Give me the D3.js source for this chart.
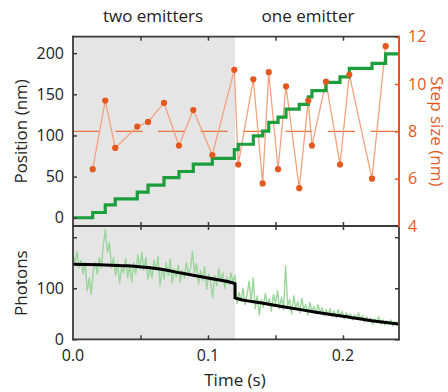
<!DOCTYPE html>
<html>
<head>
<meta charset="utf-8">
<script src="https://cdn.jsdelivr.net/npm/d3@7"></script>
<style>
  html, body { margin: 0; padding: 0; background: #fff; }
  svg { display: block; font-family: "Open Sans", "Noto Sans", sans-serif; }
</style>
</head>
<body>
<svg id="chart" width="448" height="392"></svg>
<script>
// ---- data ----
// detected steps: time (s) and step size (nm)
const stepTimes = [0.0146, 0.0239, 0.0313, 0.0476, 0.0556, 0.0674, 0.0785, 0.0891,
  0.1032, 0.1195, 0.1224, 0.1336, 0.1405, 0.1450, 0.1519, 0.1578, 0.1676, 0.1743,
  0.1770, 0.1874, 0.1978, 0.2047, 0.2215, 0.2316];
const stepSizes = [6.4, 9.3, 7.3, 8.2, 8.4, 9.2, 7.4, 8.9, 7.0, 10.6, 6.6, 10.2,
  5.8, 10.5, 6.4, 9.9, 5.6, 9.3, 7.4, 10.1, 6.6, 10.4, 6.0, 11.6];
// position level after each step (nm); first entry is the starting level
const positionLevels = [0, 6.4, 15.7, 23.0, 31.2, 39.6, 48.8, 56.2, 65.1, 72.1, 82.7,
  89.3, 99.5, 105.3, 115.8, 122.2, 132.1, 137.7, 147.0, 154.4, 164.5, 171.1, 181.5,
  187.5, 199.1];
const meanStepSize = 8;
const switchTime = 0.12;   // two emitters -> one emitter
const endTime = 0.2415;

// photon counts, one sample every photonDt seconds
const photonDt = 0.0015;
const photonCounts = [
  165, 150, 172, 140, 155, 128, 150, 95, 120, 88, 135, 150, 128, 160, 140, 185,
  215, 170, 190, 140, 160, 125, 150, 110, 140, 130, 158, 120, 145, 112, 150, 128,
  165, 140, 170, 135, 160, 118, 140, 120, 155, 135, 162, 105, 140, 118, 150, 125,
  158, 110, 138, 122, 145, 112, 135, 120, 150, 128, 140, 172, 130, 148, 108, 135,
  115, 142, 98, 128, 110, 82, 125, 105, 138, 112, 130, 100, 122, 108, 130, 112,
  125,
  70, 92, 75, 100, 68, 88, 114, 72, 120, 60, 85, 48, 78, 62, 90, 66, 80, 55, 88,
  70, 95, 60, 82, 58, 144, 66, 78, 50, 85, 62, 74, 52, 80, 58, 68, 48, 72, 55, 64,
  50, 68, 52, 62, 46, 58, 48, 60, 44, 56, 42, 58, 46, 54, 40, 52, 44, 50, 38, 48,
  40, 52, 38, 46, 34, 44, 36, 42, 30, 40, 34, 44, 30, 38, 28, 36, 30, 38, 26, 34,
  28, 35];

// fitted intensity, two-emitter and one-emitter segments
const fitTwoTimes = [0, 0.02, 0.04, 0.06, 0.08, 0.1, 0.12];
const fitTwoValues = [147, 146, 144, 139, 130, 120, 109];
const fitOneTimes = [0.12, 0.14, 0.16, 0.18, 0.2, 0.22, 0.2415];
const fitOneValues = [81, 71, 62, 53, 45, 37, 30];

const posTicks = [0, 50, 100, 150, 200];
const stepTicks = [4, 6, 8, 10, 12];
const photonTicks = [0, 100, 200];
const photonTickLabels = ["0", "100", ""];
const timeTicks = [0, 0.05, 0.1, 0.15, 0.2];
const timeTickLabels = ["0.0", "", "0.1", "", "0.2"];
const regionLabels = ["two emitters", "one emitter"];

// ---- layout ----
const svg = d3.select("#chart");
const L = 73, R = 399;
const topY0 = 36.7, topY1 = 226, botY1 = 339.3;

const ORANGE = "#e4581d";
const ORANGE_LIGHT = "#f2a27e";
const GREEN = "#1c9e3c";
const GREEN_LIGHT = "#9ad59a";
const AXIS = "#3a3a3a";
const SHADE = "#e5e5e5";

const x = d3.scaleLinear().domain([0, endTime]).range([L, R]);
const yPos = d3.scaleLinear().domain([-10, 220]).range([topY1, topY0]);
const yStep = d3.scaleLinear().domain([4, 12]).range([topY1, topY0]);
const yPh = d3.scaleLinear().domain([0, 222]).range([botY1, topY1]);

svg.append("defs").append("clipPath").attr("id", "clipTop")
  .append("rect").attr("x", L).attr("y", topY0).attr("width", R - L).attr("height", topY1 - topY0);
svg.select("defs").append("clipPath").attr("id", "clipBot")
  .append("rect").attr("x", L).attr("y", topY1).attr("width", R - L).attr("height", botY1 - topY1);

// shaded two-emitter region
svg.append("rect").attr("x", x(0)).attr("y", topY0)
  .attr("width", x(switchTime) - x(0)).attr("height", botY1 - topY0)
  .attr("fill", SHADE);

// ---- top panel ----
const gTop = svg.append("g").attr("clip-path", "url(#clipTop)");

// mean step size (dashed)
gTop.append("line")
  .attr("x1", x(0)).attr("x2", x(endTime))
  .attr("y1", yStep(meanStepSize)).attr("y2", yStep(meanStepSize))
  .attr("stroke", "#e8733f").attr("stroke-width", 1.4)
  .attr("stroke-dasharray", "27,15.5");

// step sizes
const stepPts = stepTimes.map((t, i) => [t, stepSizes[i]]);
gTop.append("path")
  .attr("d", d3.line().x(d => x(d[0])).y(d => yStep(d[1]))(stepPts))
  .attr("fill", "none").attr("stroke", ORANGE_LIGHT).attr("stroke-width", 1.3);

// position staircase
const stairPts = [[0, positionLevels[0]]]
  .concat(stepTimes.map((t, i) => [t, positionLevels[i + 1]]))
  .concat([[endTime, positionLevels[positionLevels.length - 1]]]);
gTop.append("path")
  .attr("d", d3.line().curve(d3.curveStepAfter).x(d => x(d[0])).y(d => yPos(d[1]))(stairPts))
  .attr("fill", "none").attr("stroke", GREEN).attr("stroke-width", 3.2)
  .attr("stroke-linejoin", "miter");

gTop.selectAll("circle.step").data(stepPts).join("circle")
  .attr("class", "step")
  .attr("cx", d => x(d[0])).attr("cy", d => yStep(d[1])).attr("r", 3.1)
  .attr("fill", ORANGE);

// ---- bottom panel ----
const gBot = svg.append("g").attr("clip-path", "url(#clipBot)");
gBot.append("path")
  .attr("d", d3.line().x((d, i) => x(i * photonDt)).y(d => yPh(d))(photonCounts))
  .attr("fill", "none").attr("stroke", GREEN_LIGHT).attr("stroke-width", 1.4)
  .attr("stroke-linejoin", "round");

const fitPts = fitTwoTimes.map((t, i) => [t, fitTwoValues[i]])
  .concat(fitOneTimes.map((t, i) => [t, fitOneValues[i]]));
gBot.append("path")
  .attr("d", d3.line().x(d => x(d[0])).y(d => yPh(d[1])).curve(d3.curveMonotoneX)(fitPts))
  .attr("fill", "none").attr("stroke", "#000").attr("stroke-width", 3);

// ---- axes ----
function styleAxis(g, color, width) {
  g.select(".domain").remove();
  g.selectAll(".tick line").attr("stroke", color).attr("stroke-width", width);
  g.selectAll(".tick text").attr("fill", color).style("font-size", "16px")
    .style("font-family", "'Open Sans', sans-serif");
}

// position axis (left, top panel)
svg.append("g").attr("transform", `translate(${L},0)`)
  .call(d3.axisRight(yPos).tickValues(posTicks).tickSize(4).tickFormat(() => ""))
  .call(g => styleAxis(g, AXIS, 1.5));
svg.append("g").selectAll("text").data(posTicks).join("text")
  .attr("x", L - 9).attr("y", d => yPos(d)).attr("dy", "0.35em")
  .attr("text-anchor", "end").attr("fill", "#222").style("font-size", "16px")
  .text(d => d);

// step size axis (right, top panel)
svg.append("g").attr("transform", `translate(${R},0)`)
  .call(d3.axisLeft(yStep).tickValues(stepTicks).tickSize(4).tickFormat(() => ""))
  .call(g => styleAxis(g, ORANGE, 1.5));
svg.append("g").selectAll("text").data(stepTicks).join("text")
  .attr("x", R + 9).attr("y", d => yStep(d)).attr("dy", "0.35em")
  .attr("text-anchor", "start").attr("fill", ORANGE).style("font-size", "16px")
  .text(d => d);

// photons axis (left + right, bottom panel)
svg.append("g").attr("transform", `translate(${L},0)`)
  .call(d3.axisRight(yPh).tickValues(photonTicks).tickSize(4).tickFormat(() => ""))
  .call(g => styleAxis(g, AXIS, 1.5));
svg.append("g").attr("transform", `translate(${R},0)`)
  .call(d3.axisLeft(yPh).tickValues(photonTicks).tickSize(4).tickFormat(() => ""))
  .call(g => styleAxis(g, AXIS, 1.5));
svg.append("g").selectAll("text").data(photonTicks).join("text")
  .attr("x", L - 9).attr("y", d => yPh(d)).attr("dy", "0.35em")
  .attr("text-anchor", "end").attr("fill", "#222").style("font-size", "16px")
  .text((d, i) => photonTickLabels[i]);

// time ticks: top frame, shared boundary (both ways), bottom frame
[[topY0, 4], [topY1, -4], [topY1, 4], [botY1, -4]].forEach(([yy, len]) => {
  svg.append("g").attr("transform", `translate(0,${yy})`)
    .call((len > 0 ? d3.axisBottom(x) : d3.axisTop(x))
      .tickValues(timeTicks.slice(1)).tickSize(Math.abs(len)).tickFormat(() => ""))
    .call(g => styleAxis(g, AXIS, 1.5))
    .selectAll(".tick line").attr("y2", len);
});
svg.append("g").selectAll("text").data(timeTicks).join("text")
  .attr("x", d => x(d)).attr("y", botY1 + 22)
  .attr("text-anchor", "middle").attr("fill", "#222").style("font-size", "16px")
  .text((d, i) => timeTickLabels[i]);

// frame lines
const frame = svg.append("g").attr("fill", "none").attr("stroke-linecap", "square");
frame.append("line").attr("x1", L).attr("x2", L).attr("y1", topY0).attr("y2", botY1)
  .attr("stroke", AXIS).attr("stroke-width", 1.8);
frame.append("line").attr("x1", L).attr("x2", R).attr("y1", topY0).attr("y2", topY0)
  .attr("stroke", AXIS).attr("stroke-width", 1.8);
frame.append("line").attr("x1", L).attr("x2", R).attr("y1", topY1).attr("y2", topY1)
  .attr("stroke", AXIS).attr("stroke-width", 1.8);
frame.append("line").attr("x1", L).attr("x2", R).attr("y1", botY1).attr("y2", botY1)
  .attr("stroke", AXIS).attr("stroke-width", 1.8);
frame.append("line").attr("x1", R).attr("x2", R).attr("y1", topY1).attr("y2", botY1)
  .attr("stroke", AXIS).attr("stroke-width", 1.8);
frame.append("line").attr("x1", R).attr("x2", R).attr("y1", topY0).attr("y2", topY1)
  .attr("stroke", ORANGE).attr("stroke-width", 2);

// ---- labels ----
const LABEL_SIZE = "17px";
svg.append("text").attr("transform", `translate(21,${(topY0 + topY1) / 2}) rotate(-90)`)
  .attr("text-anchor", "middle").attr("dy", "0.35em").attr("fill", "#222")
  .style("font-size", LABEL_SIZE).text("Position (nm)");
svg.append("text").attr("transform", `translate(437,${(topY0 + topY1) / 2}) rotate(90)`)
  .attr("text-anchor", "middle").attr("dy", "0.35em").attr("fill", ORANGE)
  .style("font-size", LABEL_SIZE).text("Step size (nm)");
svg.append("text").attr("transform", `translate(21,${yPh(110)}) rotate(-90)`)
  .attr("text-anchor", "middle").attr("dy", "0.35em").attr("fill", "#222")
  .style("font-size", LABEL_SIZE).text("Photons");
svg.append("text").attr("x", 235).attr("y", 386)
  .attr("text-anchor", "middle").attr("fill", "#222")
  .style("font-size", LABEL_SIZE).text("Time (s)");
svg.append("text").attr("x", 153).attr("y", 22).attr("text-anchor", "middle")
  .attr("fill", "#222").style("font-size", LABEL_SIZE).text(regionLabels[0]);
svg.append("text").attr("x", 308).attr("y", 22).attr("text-anchor", "middle")
  .attr("fill", "#222").style("font-size", LABEL_SIZE).text(regionLabels[1]);
</script>
</body>
</html>
